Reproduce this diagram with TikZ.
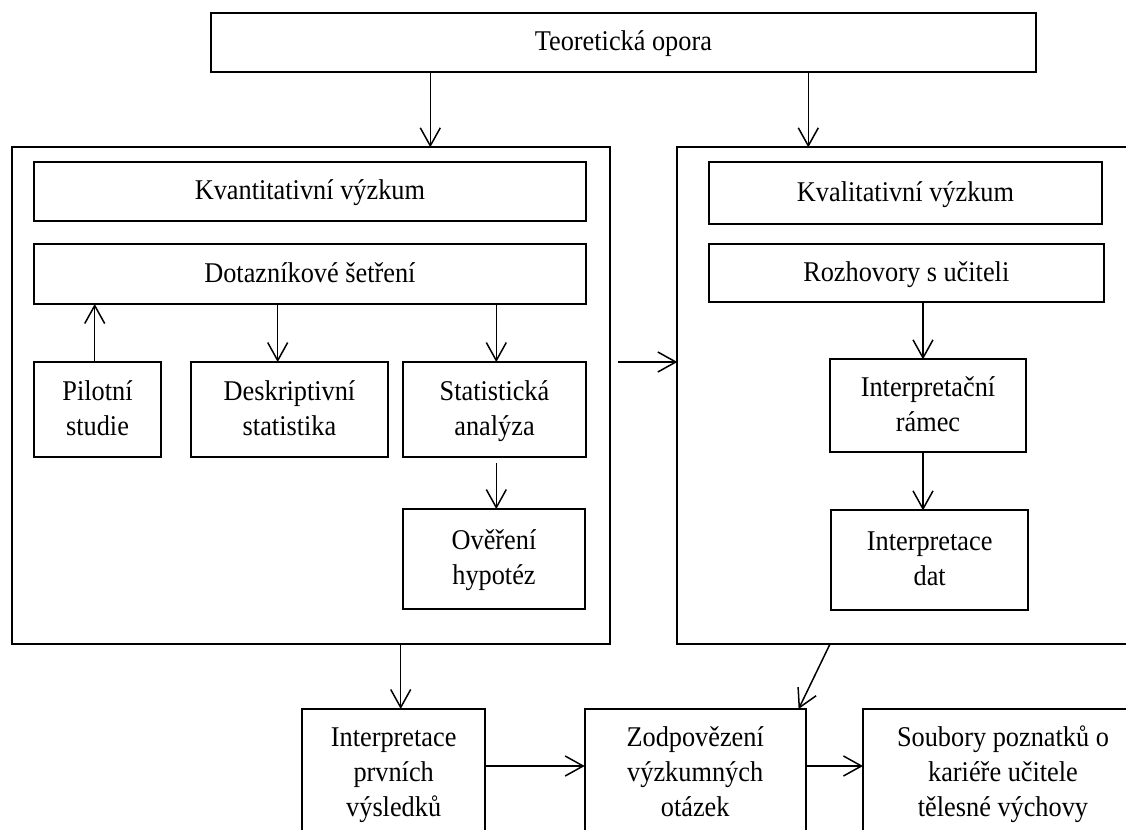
\documentclass[tikz,border=0pt]{standalone}
\usepackage{fontspec}
\setmainfont{Liberation Serif}[FakeStretch=0.92]
\usetikzlibrary{arrows.meta}
\newcommand\myTop{\vphantom{Ě}}
\newcommand\myBot{\rule[-4pt]{0pt}{0pt}}
\tikzset{
  box/.style={draw, line width=1pt, inner sep=0pt, outer sep=0pt, align=center,
    font=\fontsize{14.3pt}{17.5pt}\selectfont},
  frame/.style={draw, line width=1pt, inner sep=0pt, outer sep=0pt},
  arr/.style={line width=0.75pt, -{Straight Barb[length=9pt,width=10pt,line width=0.75pt]}},
}
\begin{document}
\begin{tikzpicture}[x=0.5pt,y=-0.5pt]
\useasboundingbox (0,0) rectangle (1126,830);
\clip (0,0) rectangle (1126,830);
% frames
\node[frame, minimum width=299.4pt, minimum height=248.35pt] (quant) at (310.9,395.7) {};
\node[frame, minimum width=236.35pt, minimum height=248.35pt] (qual) at (913.7,395.7) {};
% boxes
\node[box, minimum width=412.5pt, minimum height=29.65pt] (top) at (623.4,42.4) {\myTop Teoretická opora\myBot};
\node[box, minimum width=276.15pt, minimum height=29.65pt] (kvant) at (309.9,191.4) {\myTop Kvantitativní výzkum\myBot};
\node[box, minimum width=276.15pt, minimum height=30pt] (dotaz) at (309.9,274) {\myTop Dotazníkové šetření\myBot};
\node[box, minimum width=63.8pt, minimum height=47.35pt] (pilot) at (97.5,409.4) {\myTop Pilotní\\studie\myBot};
\node[box, minimum width=98.8pt, minimum height=47.35pt] (desk) at (289.5,409.4) {\myTop Deskriptivní\\statistika\myBot};
\node[box, minimum width=91.8pt, minimum height=47.35pt] (stat) at (494.5,409.4) {\myTop Statistická\\analýza\myBot};
\node[box, minimum width=91.3pt, minimum height=49.85pt] (over) at (494,558.9) {\myTop Ověření\\hypotéz\myBot};
\node[box, minimum width=196.8pt, minimum height=31pt] (kval) at (905.5,193.3) {\myTop Kvalitativní výzkum\myBot};
\node[box, minimum width=197.65pt, minimum height=28.85pt] (rozh) at (906.3,273.2) {\myTop Rozhovory s učiteli\myBot};
\node[box, minimum width=98pt, minimum height=46.35pt] (ramec) at (928,405.7) {\myTop Interpretační\\rámec\myBot};
\node[box, minimum width=98.25pt, minimum height=49.8pt] (dat) at (929.7,560.2) {\myTop Interpretace\\dat\myBot};
\node[box, minimum width=91.35pt, minimum height=64pt] (interp) at (393.7,773) {\myTop Interpretace\\prvních\\výsledků\myBot};
\node[box, minimum width=110.5pt, minimum height=64pt] (zod) at (695.2,773) {\myTop Zodpovězení\\výzkumných\\otázek\myBot};
\node[box, minimum width=140pt, minimum height=64pt] (soub) at (1003,773) {\myTop Soubory poznatků o\\kariéře učitele\\tělesné výchovy\myBot};
% helper coordinates
\coordinate (xA) at (430.3,0);
\coordinate (xB) at (808.3,0);
\coordinate (xP) at (94.7,0);
\coordinate (xD) at (277.7,0);
\coordinate (xS) at (496.3,0);
\coordinate (xR) at (923,0);
\coordinate (xI) at (400.7,0);
\coordinate (xQ1) at (830,0);
\coordinate (xQ2) at (798.6,0);
\coordinate (h1) at (618.3,362);
\coordinate (yB) at (0,766);
% arrows
\draw[arr] (top.south -| xA) -- (quant.north -| xA);
\draw[arr] (top.south -| xB) -- (qual.north -| xB);
\draw[arr] (pilot.north -| xP) -- (dotaz.south -| xP);
\draw[arr] (dotaz.south -| xD) -- (desk.north -| xD);
\draw[arr] (dotaz.south -| xS) -- (stat.north -| xS);
\draw[arr, shorten <=3.3pt] (stat.south -| xS) -- (over.north -| xS);
\draw[arr] (h1) -- (h1 -| qual.west);
\draw[arr] (rozh.south -| xR) -- (ramec.north -| xR);
\draw[arr] (ramec.south -| xR) -- (dat.north -| xR);
\draw[arr] (quant.south -| xI) -- (interp.north -| xI);
\draw[arr] (qual.south -| xQ1) -- (zod.north -| xQ2);
\draw[arr] (interp.east |- yB) -- (zod.west |- yB);
\draw[arr] (zod.east |- yB) -- (soub.west |- yB);
\end{tikzpicture}
\end{document}
